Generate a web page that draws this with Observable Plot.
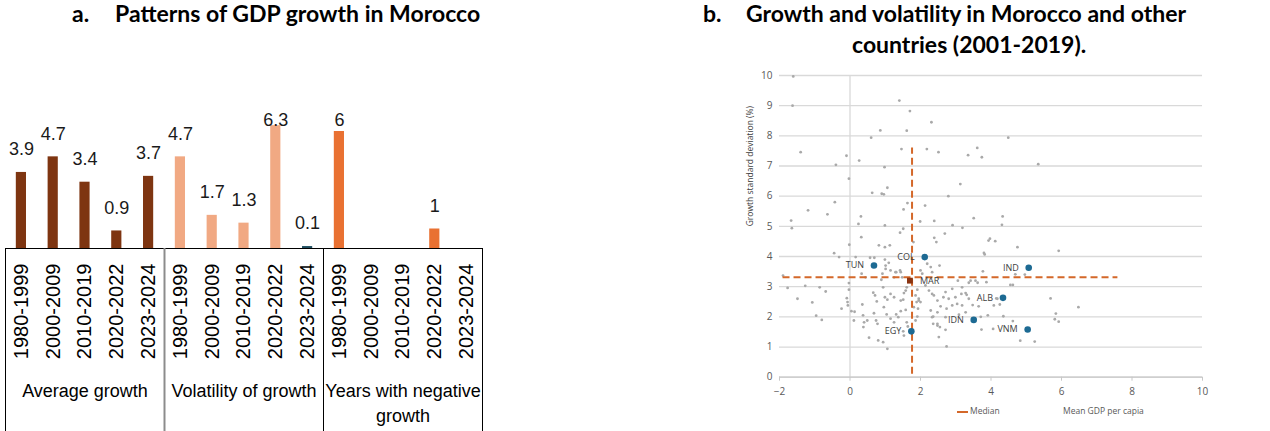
<!DOCTYPE html>
<html><head><meta charset="utf-8">
<script src="https://cdn.jsdelivr.net/npm/d3@7"></script>
<script src="https://cdn.jsdelivr.net/npm/@observablehq/plot@0.6"></script>
<style>
body{margin:0;background:#fff;}
#wrap{position:relative;width:1270px;height:431px;overflow:hidden;}
#pa,#pb{position:absolute;top:0;}
#pa{left:0;} #pb{left:700px;}
.t{position:absolute;font-family:Lato,sans-serif;font-weight:700;font-size:23px;line-height:27.6px;color:#000;white-space:nowrap;}
.leg{position:absolute;font-family:"Open Sans",sans-serif;font-size:8.5px;line-height:10px;color:#595959;white-space:nowrap;}
</style></head><body>
<div id="wrap">
  <div id="pa"></div>
  <div id="pb"></div>
  <div class="t" style="left:72px;top:0px">a.</div>
  <div class="t" style="left:115px;top:0px">Patterns of GDP growth in Morocco</div>
  <div class="t" style="left:703px;top:0px">b.</div>
  <div class="t" style="left:746px;top:0px">Growth and volatility in Morocco and other</div>
  <div class="t" style="left:852px;top:31px">countries (2001-2019).</div>
  <div style="position:absolute;left:957px;top:411px;width:11px;border-top:2px dashed #d4682a;"></div>
  <div class="leg" style="left:970px;top:406px">Median</div>
  <div class="leg" style="left:1063px;top:406px">Mean GDP per capia</div>
</div>
<script>
// ---------- Panel a data ----------
const periods = ["1980-1999","2000-2009","2010-2019","2020-2022","2023-2024"];
const groups = ["Average growth","Volatility of growth","Years with negative\ngrowth"];
const avgGrowth = [3.9, 4.7, 3.4, 0.9, 3.7];
const volatility = [4.7, 1.7, 1.3, 6.3, 0.1];
const negYears = [6, 0, 0, 1, 0];
const avgColors = ["#7e3511","#7e3511","#7e3511","#7e3511","#7e3511"];
const volColors = ["#f1a983","#f1a983","#f1a983","#f1a983","#1f4e60"];
const negColors = ["#e97132","#e97132","#e97132","#e97132","#e97132"];

// ---------- Panel b data ----------
const gdpX = [
-1.61,-1.63,-1.40,-1.19,-1.67,-1.65,-0.64,-0.43,-0.40,-0.10,
-0.03,-0.02,-0.45,-0.31,0.16,0.26,0.31,0.24,0.32,0.60,
0.86,0.63,0.90,0.96,0.98,1.06,0.99,0.82,0.99,1.13,
0.57,0.69,0.99,1.40,1.70,1.61,1.46,1.63,1.52,1.51,
1.42,1.80,2.18,2.31,2.51,2.13,1.99,2.39,2.39,2.45,
2.69,2.79,2.91,3.13,3.19,3.35,3.61,3.51,3.74,4.49,
5.34,4.33,4.31,3.93,3.97,4.12,4.75,5.92,3.82,3.80,
4.69,4.96,4.55,4.62,4.25,5.69,6.48,5.84,5.81,5.92,
4.35,4.62,4.06,4.83,5.24,3.77,3.37,3.62,3.28,4.15,
3.48,3.65,3.71,3.91,3.73,-1.90,-1.77,-1.27,-0.86,-0.69,
-1.49,-1.07,-0.96,-0.80,-0.03,-0.03,-0.09,-0.07,-0.06,-0.24,
0.04,0.13,0.11,0.33,0.44,0.35,0.37,0.40,0.38,0.49,
0.54,0.66,0.71,0.76,0.68,0.74,0.78,0.80,0.94,1.06,
0.89,0.94,0.99,1.06,0.96,1.04,1.15,1.25,1.31,1.15,
1.25,1.31,1.37,1.44,1.15,1.25,1.51,1.53,1.44,1.51,
1.58,1.61,1.64,1.48,1.44,1.61,1.58,1.53,1.86,1.91,
1.89,1.95,1.91,1.86,2.00,2.05,2.19,2.29,2.14,2.24,
2.33,2.36,2.48,2.52,2.71,2.54,2.74,1.01,1.10,0.92,
1.01,1.29,1.42,2.33,3.06,3.18,2.90,2.71,3.87,3.42,
3.56,2.38,2.48,2.65,2.80,2.99,3.16,3.31,3.37,4.18,
4.08,1.95,2.00,1.81,1.93,2.29,2.48,2.57,2.74,2.90,
3.04,3.18,2.33,2.36,2.48,2.55,2.71,3.09,3.28
];
const sdY = [
9.97,9.00,7.46,5.53,5.19,4.94,5.40,5.80,7.04,7.34,
6.58,4.39,4.11,3.98,3.98,7.18,5.33,5.08,4.64,7.94,
8.18,6.11,6.08,6.06,6.96,6.28,5.03,4.37,4.31,4.37,
3.96,3.96,3.90,9.17,8.82,8.17,7.56,5.77,5.56,4.92,
4.79,4.48,7.56,8.45,7.46,5.69,5.16,5.18,4.62,4.48,
4.76,6.00,5.04,6.40,4.95,7.36,7.60,5.27,7.29,7.94,
7.06,5.33,5.05,4.53,4.59,4.51,4.31,4.19,4.07,4.12,
3.41,3.40,3.06,3.06,2.41,2.61,2.32,2.11,1.92,1.84,
2.02,1.86,1.60,1.21,1.18,3.51,3.13,3.13,2.79,2.61,
2.39,2.35,2.00,2.05,1.58,3.37,2.96,3.03,2.98,2.84,
2.60,2.48,2.04,1.90,3.12,2.90,2.62,2.49,2.38,2.27,
2.19,2.17,1.88,3.43,3.31,2.41,2.05,1.82,1.66,1.88,
1.31,2.80,2.71,2.51,2.12,1.88,1.77,1.22,1.16,0.94,
3.23,2.98,2.65,2.57,2.32,2.08,3.54,3.31,3.48,2.76,
2.65,2.08,1.99,2.19,1.94,1.82,1.52,1.38,2.54,2.57,
2.23,1.82,1.68,3.31,3.48,2.98,2.87,2.79,2.71,2.90,
2.49,2.54,2.01,1.88,3.54,3.43,3.76,3.65,3.04,2.87,
2.76,2.01,1.77,1.33,1.57,3.70,1.02,3.70,3.79,3.43,
3.59,3.48,3.54,3.48,3.20,2.98,2.93,2.82,3.15,3.20,
3.20,2.71,2.54,2.65,2.60,2.65,2.76,2.73,2.60,2.60,
2.38,2.60,2.49,2.32,2.27,2.21,2.15,2.35,2.27,2.38,
2.43,2.38,1.99,1.77,1.71,1.66,1.99,2.07,2.15
];
const hlCodes = ["TUN","COL","IND","ALB","IDN","EGY","VNM"];
const hlX = [0.68, 2.12, 5.07, 4.34, 3.51, 1.74, 5.04];
const hlY = [3.70, 3.98, 3.63, 2.63, 1.90, 1.52, 1.58];
const marCode = ["MAR"];
const marX = [1.70];
const marY = [3.20];
const medianGdp = 1.76, medianSd = 3.31;
const medHSpan = [-1.9, 7.6];
const medVSpan = [0.1, 7.6];
const xTicks = [-2, 0, 2, 4, 6, 8, 10];
const yTicks = [0,1,2,3,4,5,6,7,8,9,10];
const yTitle = ["Growth standard deviation (%)"];

// ---------- Panel a ----------
const series = [avgGrowth, volatility, negYears];
const fills = [avgColors, volColors, negColors];
const rows = [];
groups.forEach((g, gi) => periods.forEach((p, pi) =>
  rows.push({key: gi + "|" + p, group: g, period: p, value: series[gi][pi], fill: fills[gi][pi]})));
const keys = rows.map(d => d.key);
const firstKeys = groups.map((g, gi) => gi + "|" + periods[0]);
const midKeys = groups.map((g, gi) => gi + "|" + periods[2]);
const lastKey = [keys[keys.length - 1]];
const W = 600, ML = 5, MR = 118;
const step = (W - ML - MR) / keys.length;
const labelCap = 5.38;
const fontA = "'Liberation Sans', Arial, sans-serif";

const chartA = Plot.plot({
  width: W, height: 431, marginLeft: ML, marginRight: MR, marginTop: 53, marginBottom: 183,
  style: {background: "transparent", overflow: "visible", fontFamily: fontA},
  x: {type: "band", domain: keys, paddingInner: 0.68, paddingOuter: 0.34, round: false},
  y: {domain: [0, 10], axis: null},
  marks: [
    Plot.barY(rows.filter(d => d.value > 0), {x: "key", y: "value", fill: "fill"}),
    Plot.text(rows.filter(d => d.value > 0), {x: "key", y: d => Math.min(d.value, labelCap), text: d => String(d.value),
      dy: -23, fontSize: 18, fill: "#1a1a1a", lineAnchor: "middle"}),
    Plot.axisX({tickRotate: -90, tickSize: 0, tickPadding: 15, fontSize: 20, tickFormat: k => k.split("|")[1], label: null, fill: "#000"}),
    Plot.ruleY([0], {stroke: "#000", strokeWidth: 1}),
    Plot.ruleX(firstKeys, {x: d => d, dx: -step / 2, insetTop: 195, insetBottom: -183,
      stroke: (d, i) => i === 1 ? "#8c8c8c" : "#000", strokeWidth: (d, i) => i === 1 ? 2 : 1}),
    Plot.ruleX(lastKey, {x: d => d, dx: step / 2, insetTop: 195, insetBottom: -183, stroke: "#000"}),
    Plot.text(groups, {x: (d, i) => midKeys[i], frameAnchor: "bottom", dy: 131, lineAnchor: "top",
      lineHeight: 1.39, fontSize: 18, fill: "#000", text: d => d})
  ]
});
document.getElementById("pa").appendChild(chartA);

// ---------- Panel b ----------
const idx = d3.range(gdpX.length);
const orange = "#d4682a";
const chartB = Plot.plot({
  width: 570, height: 431, marginLeft: 79, marginRight: 68, marginTop: 75, marginBottom: 54.3,
  style: {background: "transparent", overflow: "visible", fontFamily: "'Open Sans', sans-serif"},
  x: {domain: [-2, 10]},
  y: {domain: [0, 10]},
  marks: [
    Plot.gridY({ticks: yTicks, stroke: "#d9d9d9", strokeOpacity: 1, strokeWidth: 1.3}),
    Plot.ruleX([0], {y1: 0, y2: 10, stroke: "#d9d9d9", strokeWidth: 1.3}),
    Plot.ruleY([0], {stroke: "#c8c8c8", strokeWidth: 1.3}),
    Plot.axisX({ticks: xTicks, tickSize: 4, tickPadding: 7, fontSize: 10, color: "#595959", stroke: "#c8c8c8", label: null}),
    Plot.axisY({ticks: yTicks, tickSize: 0, tickPadding: 7, fontSize: 10, color: "#595959", label: null}),
    Plot.text(yTitle, {frameAnchor: "left", rotate: -90, dx: -29, fontSize: 8.5, fill: "#404040", text: d => d}),
    Plot.dot(idx, {x: i => gdpX[i], y: i => sdY[i], r: 1.4, fill: "#a9a9a9"}),
    Plot.ruleY([medianSd], {x1: medHSpan[0], x2: medHSpan[1], stroke: orange, strokeWidth: 2, strokeDasharray: "7,4"}),
    Plot.ruleX([medianGdp], {y1: medVSpan[0], y2: medVSpan[1], stroke: orange, strokeWidth: 2, strokeDasharray: "7,4"}),
    Plot.dot(hlCodes, {x: (d, i) => hlX[i], y: (d, i) => hlY[i], r: 3.3, fill: "#1d6a93"}),
    Plot.dot(marCode, {x: (d, i) => marX[i], y: (d, i) => marY[i], r: 3.3, fill: "#8a3412", symbol: "square"}),
    Plot.text(hlCodes, {x: (d, i) => hlX[i], y: (d, i) => hlY[i], text: d => d, dx: -10, textAnchor: "end", fontSize: 9, fill: "#404040"}),
    Plot.text(marCode, {x: (d, i) => marX[i], y: (d, i) => marY[i], text: d => d, dx: 10, textAnchor: "start", fontSize: 9, fill: "#404040"})
  ]
});
document.getElementById("pb").appendChild(chartB);
</script>
</body></html>
